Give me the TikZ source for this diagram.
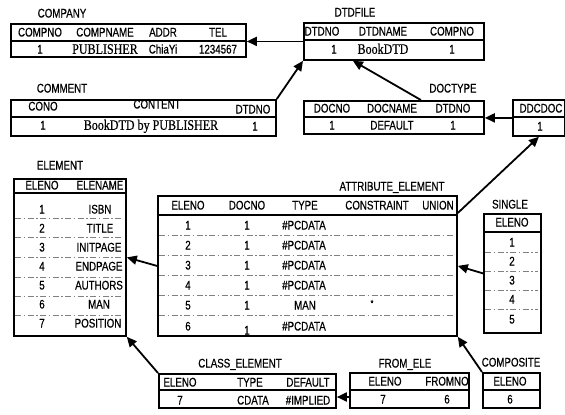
\documentclass[tikz,border=0pt]{standalone}
\usepackage{fontspec}
\setmainfont{Liberation Sans}[FakeStretch=0.78,FakeBold=0.6]
\newfontfamily\serifdata{Liberation Serif}[FakeStretch=0.83,FakeBold=0.5]
\usetikzlibrary{arrows.meta}
\tikzset{
  tbox/.style={draw, line width=1.8pt, inner sep=0pt, anchor=north west},
  hdiv/.style={line width=1.6pt},
  rowsep/.style={line width=0.5pt, black!50, dash pattern=on 6pt off 2.5pt on 1.5pt off 2.5pt},
  lbl/.style={font=\fontsize{12.5}{14}\selectfont, inner sep=0pt, text height=9pt, text depth=0pt},
  sdat/.style={font=\fontsize{14.5}{16}\serifdata, inner sep=0pt, text height=9.6pt, text depth=0pt},
  arr/.style={line width=1.8pt, -{Triangle[length=10pt,width=9pt]}},
}
\begin{document}
\begin{tikzpicture}[x=1pt,y=-1pt]
\useasboundingbox (0,0) rectangle (565,415);

% ---------- COMPANY ----------
\node[lbl] (lcompany) at (62,13) {COMPANY};
\node[tbox, minimum width=235pt, minimum height=33pt] (company) at (10,23) {};
\draw[hdiv] (company.west |- 0,41) -- (company.east |- 0,41);
\node[lbl] (company-h1) at (40,32) {COMPNO};
\node[lbl] (company-h2) at (105,32) {COMPNAME};
\node[lbl] (company-h3) at (163,32) {ADDR};
\node[lbl] (company-h4) at (218,32) {TEL};
\node[lbl] (company-d1) at (40,49) {1};
\node[sdat] (company-d2) at (105,49) {PUBLISHER};
\node[lbl] (company-d3) at (163,49) {ChiaYi};
\node[lbl] (company-d4) at (218,49) {1234567};

% ---------- DTDFILE ----------
\node[lbl] (ldtdfile) at (355,12) {DTDFILE};
\node[tbox, minimum width=180pt, minimum height=37pt] (dtdfile) at (303,22) {};
\draw[hdiv] (dtdfile.west |- 0,40) -- (dtdfile.east |- 0,40);
\node[lbl] (dtdfile-h1) at (322,31) {DTDNO};
\node[lbl] (dtdfile-h2) at (383,31) {DTDNAME};
\node[lbl] (dtdfile-h3) at (452,31) {COMPNO};
\node[lbl] (dtdfile-d1) at (334,49) {1};
\node[sdat] (dtdfile-d2) at (383,49) {BookDTD};
\node[lbl] (dtdfile-d3) at (452,49) {1};

% ---------- COMMENT ----------
\node[lbl] (lcomment) at (62,88) {COMMENT};
\node[tbox, minimum width=265pt, minimum height=36pt] (comment) at (10,99) {};
\draw[hdiv] (comment.west |- 0,117) -- (comment.east |- 0,117);
\node[lbl] (comment-h1) at (43,106) {CONO};
\node[lbl] (comment-h2) at (157,104) {CONTENT};
\node[lbl] (comment-h3) at (253,109) {DTDNO};
\node[lbl] (comment-d1) at (43,125) {1};
\node[sdat] (comment-d2) at (151,125) {BookDTD by PUBLISHER};
\node[lbl] (comment-d3) at (255,126) {1};

% ---------- DOCTYPE ----------
\node[lbl] (ldoctype) at (453,88) {DOCTYPE};
\node[tbox, minimum width=180pt, minimum height=33pt] (doctype) at (303,100) {};
\draw[hdiv] (doctype.west |- 0,117) -- (doctype.east |- 0,117);
\node[lbl] (doctype-h1) at (332,108) {DOCNO};
\node[lbl] (doctype-h2) at (392,108) {DOCNAME};
\node[lbl] (doctype-h3) at (453,108) {DTDNO};
\node[lbl] (doctype-d1) at (332,125) {1};
\node[lbl] (doctype-d2) at (392,125) {DEFAULT};
\node[lbl] (doctype-d3) at (453,125) {1};

% ---------- DDCDOC ----------
\node[tbox, minimum width=52pt, minimum height=36pt] (ddcdoc) at (512,99) {};
\draw[hdiv] (ddcdoc.west |- 0,117) -- (ddcdoc.east |- 0,117);
\node[lbl] (ddcdoc-h1) at (541,108) {DDCDOC};
\node[lbl] (ddcdoc-d1) at (540,126) {1};

% ---------- ELEMENT ----------
\node[lbl] (lelement) at (60,165) {ELEMENT};
\node[tbox, minimum width=112pt, minimum height=157pt] (element) at (13,178) {};
\draw[hdiv] (element.west |- 0,193) -- (element.east |- 0,193);
\node[lbl] (element-h1) at (42,185) {ELENO};
\node[lbl] (element-h2) at (100,185) {ELENAME};
\foreach \yy in {218,237,257,277,296,315}
  \draw[rowsep] (15,\yy) -- (123,\yy);
\node[lbl] (element-n1) at (42,209) {1};
\node[lbl] (element-v1) at (100,209) {ISBN};
\node[lbl] (element-n2) at (42,228) {2};
\node[lbl] (element-v2) at (100,228) {TITLE};
\node[lbl] (element-n3) at (42,247) {3};
\node[lbl] (element-v3) at (99,247) {INITPAGE};
\node[lbl] (element-n4) at (42,266) {4};
\node[lbl] (element-v4) at (99,266) {ENDPAGE};
\node[lbl] (element-n5) at (42,285) {5};
\node[lbl] (element-v5) at (99,285) {AUTHORS};
\node[lbl] (element-n6) at (42,304) {6};
\node[lbl] (element-v6) at (99,304) {MAN};
\node[lbl] (element-n7) at (42,323) {7};
\node[lbl] (element-v7) at (98,323) {POSITION};

% ---------- ATTRIBUTE_ELEMENT ----------
\node[lbl] (lattr) at (392,186) {ATTRIBUTE\_ELEMENT};
\node[tbox, minimum width=299pt, minimum height=140pt] (attr) at (157,195) {};
\draw[hdiv] (attr.west |- 0,215) -- (attr.east |- 0,215);
\node[lbl] (attr-h1) at (188,205) {ELENO};
\node[lbl] (attr-h2) at (247,205) {DOCNO};
\node[lbl] (attr-h3) at (305,205) {TYPE};
\node[lbl] (attr-h4) at (377,205) {CONSTRAINT};
\node[lbl] (attr-h5) at (438,205) {UNION};
\foreach \yy in {235,255,275,295,315}
  \draw[rowsep] (159,\yy) -- (454,\yy);
\node[lbl] (attr-a1) at (188,225) {1};
\node[lbl] (attr-b1) at (247,225) {1};
\node[lbl] (attr-c1) at (304,225) {\#PCDATA};
\node[lbl] (attr-a2) at (188,245) {2};
\node[lbl] (attr-b2) at (247,245) {1};
\node[lbl] (attr-c2) at (304,245) {\#PCDATA};
\node[lbl] (attr-a3) at (188,265) {3};
\node[lbl] (attr-b3) at (247,265) {1};
\node[lbl] (attr-c3) at (304,265) {\#PCDATA};
\node[lbl] (attr-a4) at (188,285) {4};
\node[lbl] (attr-b4) at (247,285) {1};
\node[lbl] (attr-c4) at (304,285) {\#PCDATA};
\node[lbl] (attr-a5) at (188,305) {5};
\node[lbl] (attr-b5) at (247,305) {1};
\node[lbl] (attr-c5) at (305,305) {MAN};
\node[inner sep=0pt, font=\fontsize{9}{10}\selectfont] (attr-d5) at (372,303) {*};
\node[lbl] (attr-a6) at (188,326) {6};
\node[lbl] (attr-b6) at (247,330) {1};
\node[lbl] (attr-c6) at (304,326) {\#PCDATA};

% ---------- SINGLE ----------
\node[lbl] (lsingle) at (510,204) {SINGLE};
\node[tbox, minimum width=57pt, minimum height=119pt] (single) at (483,213) {};
\draw[hdiv] (single.west |- 0,232) -- (single.east |- 0,232);
\node[lbl] (single-h1) at (512,222) {ELENO};
\foreach \yy in {252,271,290,309}
  \draw[rowsep] (485,\yy) -- (538,\yy);
\node[lbl] (single-1) at (512,242) {1};
\node[lbl] (single-2) at (512,261) {2};
\node[lbl] (single-3) at (512,280) {3};
\node[lbl] (single-4) at (512,299) {4};
\node[lbl] (single-5) at (512,319) {5};

% ---------- COMPOSITE ----------
\node[lbl] (lcomposite) at (511,362) {COMPOSITE};
\node[tbox, minimum width=57pt, minimum height=35pt] (composite) at (482,372) {};
\draw[hdiv] (composite.west |- 0,390) -- (composite.east |- 0,390);
\node[lbl] (composite-h1) at (510,381) {ELENO};
\node[lbl] (composite-d1) at (510,399) {6};

% ---------- FROM_ELE ----------
\node[lbl] (lfrom) at (405,363) {FROM\_ELE};
\node[tbox, minimum width=119pt, minimum height=35pt] (fromele) at (349,372) {};
\draw[hdiv] (fromele.west |- 0,390) -- (fromele.east |- 0,390);
\node[lbl] (fromele-h1) at (385,381) {ELENO};
\node[lbl] (fromele-h2) at (447,381) {FROMNO};
\node[lbl] (fromele-d1) at (383,399) {7};
\node[lbl] (fromele-d2) at (447,399) {6};

% ---------- CLASS_ELEMENT ----------
\node[lbl] (lclass) at (240,363) {CLASS\_ELEMENT};
\node[tbox, minimum width=177pt, minimum height=34pt] (classel) at (158,373) {};
\draw[hdiv] (classel.west |- 0,390) -- (classel.east |- 0,390);
\node[lbl] (classel-h1) at (180,382) {ELENO};
\node[lbl] (classel-h2) at (250,382) {TYPE};
\node[lbl] (classel-h3) at (308,382) {DEFAULT};
\node[lbl] (classel-d1) at (180,400) {7};
\node[lbl] (classel-d2) at (253,400) {CDATA};
\node[lbl] (classel-d3) at (308,400) {\#IMPLIED};

% ---------- connectors ----------
\draw[arr] (dtdfile.west) -- (dtdfile.west -| company.east);
\draw[arr] (comment.north east) -- (dtdfile.south west);
\draw[arr] ([xshift=27pt]doctype.north) -- ([xshift=-41pt]dtdfile.south);
\draw[arr] (ddcdoc.west) -- (ddcdoc.west -| doctype.east);
\draw[arr] ([yshift=-18pt]attr.north east) -- (ddcdoc.south);
\draw[arr] (single.west) -- (attr.east);
\draw[arr] (composite.north west) -- (attr.south east);
\draw[arr] (attr.west) -- (element.east);
\draw[arr] (classel.north west) -- (element.south east);
\draw[arr] (fromele.west |- 0,397) -- (classel.east |- 0,397);
\end{tikzpicture}
\end{document}
